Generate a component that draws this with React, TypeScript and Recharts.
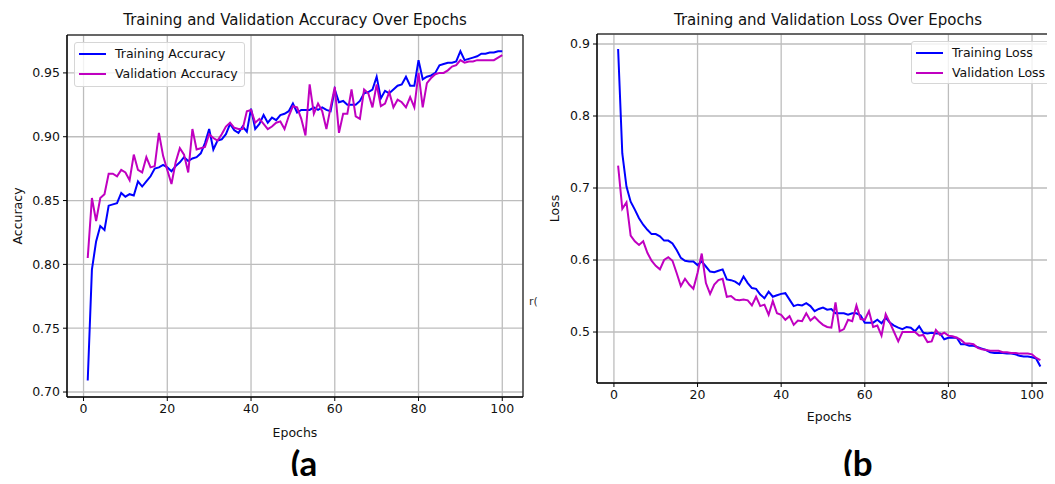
import { LineChart, Line, XAxis, YAxis, CartesianGrid, ReferenceArea } from 'recharts';

// values, one per epoch
const trainAcc = [
  0.709, 0.796, 0.818, 0.83, 0.827, 0.846, 0.847, 0.848, 0.856, 0.853,
  0.855, 0.854, 0.865, 0.861, 0.865, 0.869, 0.875, 0.876, 0.878, 0.876,
  0.873, 0.877, 0.88, 0.884, 0.881, 0.883, 0.884, 0.887, 0.895, 0.906,
  0.89, 0.897, 0.898, 0.902, 0.91, 0.905, 0.903, 0.908, 0.904, 0.922,
  0.906, 0.91, 0.917, 0.911, 0.915, 0.913, 0.917, 0.918, 0.92, 0.926,
  0.919, 0.921, 0.921, 0.921, 0.923, 0.921, 0.923, 0.921, 0.92, 0.937,
  0.927, 0.928, 0.925, 0.925, 0.925, 0.928, 0.934, 0.935, 0.937, 0.947,
  0.93, 0.936, 0.934, 0.937, 0.94, 0.941, 0.947, 0.94, 0.94, 0.96,
  0.945, 0.947, 0.948, 0.95, 0.956, 0.957, 0.958, 0.958, 0.959, 0.967,
  0.96, 0.961, 0.962, 0.963, 0.965, 0.965, 0.966, 0.966, 0.967, 0.967,
];
const valAcc = [
  0.805, 0.852, 0.834, 0.852, 0.855, 0.871, 0.871, 0.869, 0.874, 0.872,
  0.866, 0.886, 0.874, 0.872, 0.884, 0.876, 0.877, 0.903, 0.885, 0.874,
  0.863, 0.88, 0.891, 0.886, 0.872, 0.906, 0.89, 0.891, 0.892, 0.902,
  0.899, 0.897, 0.902, 0.908, 0.911, 0.907, 0.906, 0.906, 0.92, 0.921,
  0.911, 0.914, 0.91, 0.906, 0.908, 0.911, 0.912, 0.906, 0.916, 0.924,
  0.923, 0.914, 0.901, 0.941, 0.918, 0.926, 0.92, 0.906, 0.923, 0.939,
  0.903, 0.918, 0.918, 0.937, 0.916, 0.914, 0.937, 0.934, 0.923, 0.941,
  0.924, 0.926, 0.935, 0.923, 0.929, 0.927, 0.923, 0.931, 0.923, 0.95,
  0.923, 0.942, 0.946, 0.949, 0.95, 0.95, 0.952, 0.955, 0.956, 0.96,
  0.958, 0.959, 0.959, 0.96, 0.96, 0.96, 0.96, 0.96, 0.962, 0.964,
];
const trainLoss = [
  0.893, 0.748, 0.702, 0.681, 0.67, 0.658, 0.649, 0.642, 0.636, 0.636,
  0.633, 0.627, 0.627, 0.623, 0.614, 0.603, 0.599, 0.598, 0.598, 0.593,
  0.598, 0.591, 0.584, 0.583, 0.585, 0.587, 0.573, 0.572, 0.57, 0.566,
  0.577, 0.568, 0.561, 0.56, 0.552, 0.547, 0.556, 0.549, 0.551, 0.553,
  0.554, 0.545, 0.536, 0.538, 0.537, 0.54, 0.536, 0.529, 0.532, 0.534,
  0.531, 0.532, 0.526, 0.526, 0.526, 0.524, 0.526, 0.526, 0.523, 0.513,
  0.513, 0.513, 0.517, 0.512, 0.52, 0.513, 0.509, 0.506, 0.504, 0.507,
  0.506, 0.501, 0.508, 0.499, 0.498, 0.499, 0.498, 0.498, 0.49, 0.492,
  0.492, 0.492, 0.483, 0.483, 0.481, 0.481, 0.479, 0.477, 0.475, 0.472,
  0.471, 0.471, 0.471, 0.47, 0.47, 0.469, 0.467, 0.466, 0.466, 0.465,
  0.463, 0.452,
];
const valLoss = [
  0.731, 0.671, 0.68, 0.634, 0.626, 0.621, 0.626, 0.61, 0.599, 0.592,
  0.587, 0.6, 0.604, 0.599, 0.582, 0.564, 0.574, 0.566, 0.56, 0.582,
  0.609, 0.568, 0.553, 0.566, 0.572, 0.574, 0.549, 0.55, 0.545, 0.544,
  0.545, 0.544, 0.537, 0.549, 0.536, 0.538, 0.524, 0.543, 0.526, 0.524,
  0.517, 0.522, 0.51, 0.516, 0.515, 0.526, 0.516, 0.521, 0.515, 0.51,
  0.507, 0.506, 0.541, 0.501, 0.504, 0.517, 0.515, 0.537, 0.518, 0.517,
  0.529, 0.507, 0.509, 0.495, 0.525, 0.513, 0.5, 0.487, 0.5, 0.5,
  0.5, 0.5, 0.495, 0.496, 0.486, 0.487, 0.503, 0.496, 0.499, 0.495,
  0.494, 0.492, 0.489, 0.484, 0.484, 0.483, 0.478, 0.476, 0.475, 0.474,
  0.474, 0.474, 0.472, 0.472, 0.471, 0.471, 0.47, 0.47, 0.47, 0.469,
  0.464, 0.461,
];

const epochTicks = [0, 20, 40, 60, 80, 100];
const accTicks = [0.7, 0.75, 0.8, 0.85, 0.9, 0.95];
const lossTicks = [0.5, 0.6, 0.7, 0.8, 0.9];

const BLUE = '#0000ff';
const MAGENTA = '#c000c0';
const GRID = '#bdbdbd';
const FONT = '"DejaVu Sans", sans-serif';

const accData = trainAcc.map((v, i) => ({ epoch: i + 1, train: v, val: valAcc[i] }));
const lossData = trainLoss.map((v, i) => ({ epoch: i + 1, train: v, val: valLoss[i] }));

const accX: [number, number] = [-3.95, 104.95];
const accY: [number, number] = [0.6961, 0.9797];
const lossX: [number, number] = [-4.05, 107.05];
const lossY: [number, number] = [0.4292, 0.9139];

const tickStyle = { fontSize: 12.5, fill: '#111', fontFamily: FONT };

function LegendBox({ left, top, width, height, items }: {
  left: number; top: number; width: number; height: number;
  items: { label: string; color: string }[];
}) {
  return (
    <div style={{
      position: 'absolute', left, top, width, height, boxSizing: 'border-box',
      border: '1px solid #d6d6d6', borderRadius: 3, background: 'rgba(255,255,255,0.8)',
    }}>
      {items.map((it, i) => (
        <div key={it.label}>
          <div style={{ position: 'absolute', left: 4, top: 9.5 + i * 20, width: 27, height: 2, background: it.color }} />
          <div style={{
            position: 'absolute', left: 40, top: 2.5 + i * 20, lineHeight: '15px',
            fontSize: 12.5, fontFamily: FONT, color: '#111', whiteSpace: 'nowrap',
          }}>{it.label}</div>
        </div>
      ))}
    </div>
  );
}

function AccuracyChart() {
  return (
    <LineChart width={530} height={484} data={accData} margin={{ top: 35, right: 7, bottom: 63, left: 0 }}>
      <CartesianGrid stroke={GRID} strokeWidth={1.3} />
      <XAxis dataKey="epoch" type="number" domain={accX} ticks={epochTicks} allowDataOverflow
        height={24} tickSize={4} tickMargin={3} tick={tickStyle} stroke="#000"
        label={{ value: 'Epochs', position: 'bottom', offset: 7, style: { fontSize: 12.5, fill: '#111', fontFamily: FONT } }} />
      <YAxis type="number" domain={accY} ticks={accTicks} allowDataOverflow width={67}
        tickSize={4} tickMargin={3} tick={tickStyle} stroke="#000" tickFormatter={(v: number) => v.toFixed(2)}
        label={{ value: 'Accuracy', angle: -90, position: 'insideLeft', offset: 18, style: { fontSize: 12.5, fill: '#111', fontFamily: FONT, textAnchor: 'middle' } }} />
      <ReferenceArea x1={accX[0]} x2={accX[1]} y1={accY[0]} y2={accY[1]} fill="none" stroke="#000" strokeWidth={1} ifOverflow="visible" />
      <Line dataKey="train" stroke={BLUE} strokeWidth={2} dot={false} isAnimationActive={false} />
      <Line dataKey="val" stroke={MAGENTA} strokeWidth={2} dot={false} isAnimationActive={false} />
    </LineChart>
  );
}

function LossChart() {
  return (
    <LineChart width={540} height={484} data={lossData} margin={{ top: 34, right: 8.5, bottom: 77, left: 0 }}>
      <CartesianGrid stroke={GRID} strokeWidth={1.3} />
      <XAxis dataKey="epoch" type="number" domain={lossX} ticks={epochTicks} allowDataOverflow
        height={24} tickSize={4} tickMargin={3} tick={tickStyle} stroke="#000"
        label={{ value: 'Epochs', position: 'bottom', offset: 5, style: { fontSize: 12.5, fill: '#111', fontFamily: FONT } }} />
      <YAxis type="number" domain={lossY} ticks={lossTicks} allowDataOverflow width={67}
        tickSize={4} tickMargin={3} tick={tickStyle} stroke="#000" tickFormatter={(v: number) => v.toFixed(1)}
        label={{ value: 'Loss', angle: -90, position: 'insideLeft', offset: 25, style: { fontSize: 12.5, fill: '#111', fontFamily: FONT, textAnchor: 'middle' } }} />
      <ReferenceArea x1={lossX[0]} x2={lossX[1]} y1={lossY[0]} y2={lossY[1]} fill="none" stroke="#000" strokeWidth={1} ifOverflow="visible" />
      <Line dataKey="train" stroke={BLUE} strokeWidth={2} dot={false} isAnimationActive={false} />
      <Line dataKey="val" stroke={MAGENTA} strokeWidth={2} dot={false} isAnimationActive={false} />
    </LineChart>
  );
}

const titleStyle = {
  position: 'absolute' as const, top: 11, lineHeight: '18px', fontSize: 15,
  fontFamily: FONT, color: '#111', textAlign: 'center' as const, whiteSpace: 'nowrap' as const,
};
const panelStyle = {
  position: 'absolute' as const, top: 440, lineHeight: '44px', fontSize: 35, fontWeight: 700,
  fontFamily: 'Lato, sans-serif', color: '#000', textAlign: 'center' as const,
};

export default function App() {
  return (
    <div style={{ position: 'relative', margin: -8, width: 1055, height: 484, overflow: 'hidden', background: '#fff' }}>
      <div style={{ position: 'absolute', left: 0, top: 0 }}>
        <AccuracyChart />
      </div>
      <div style={{ position: 'absolute', left: 530, top: 0 }}>
        <LossChart />
      </div>
      <div style={{ ...titleStyle, left: 0, width: 590 }}>Training and Validation Accuracy Over Epochs</div>
      <div style={{ ...titleStyle, left: 600, width: 456 }}>Training and Validation Loss Over Epochs</div>
      <LegendBox left={74} top={42} width={171} height={45}
        items={[{ label: 'Training Accuracy', color: BLUE }, { label: 'Validation Accuracy', color: MAGENTA }]} />
      <LegendBox left={911} top={41} width={144} height={43}
        items={[{ label: 'Training Loss', color: BLUE }, { label: 'Validation Loss', color: MAGENTA }]} />
      <div style={{ position: 'absolute', left: 529, top: 295, fontSize: 11, fontFamily: FONT, color: '#333' }}>r(</div>
      <div style={{ ...panelStyle, left: 254, width: 100 }}>(a</div>
      <div style={{ ...panelStyle, left: 808, width: 100 }}>(b</div>
    </div>
  );
}
